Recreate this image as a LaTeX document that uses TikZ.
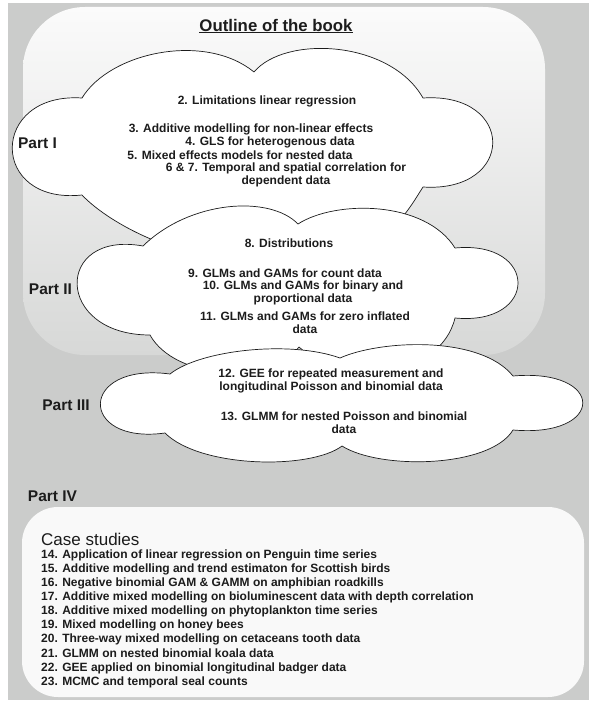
\documentclass[tikz,border=0pt]{standalone}
\usepackage{fontspec}
\setmainfont{Liberation Sans}
\usetikzlibrary{positioning}

\definecolor{bggray}{HTML}{CBCCCB}
\definecolor{paneltop}{HTML}{FBFBFB}
\definecolor{panelbot}{HTML}{D7D8D7}
\definecolor{casefill}{HTML}{F9F9F9}
\definecolor{ink}{HTML}{1C1C1C}

\tikzset{
  cloudline/.style={draw=ink, fill=white, line width=0.7pt},
  chapter/.style={font=\bfseries\fontsize{12}{13}\selectfont, text=ink, align=center, inner sep=0pt},
  partlabel/.style={font=\bfseries\fontsize{15.5}{18}\selectfont, text=ink, inner sep=0pt},
  caselist/.style={font=\bfseries\fontsize{12}{14.1}\selectfont, text=ink, align=left, inner sep=0pt},
}

\begin{document}
\begin{tikzpicture}[x=1pt, y=-1pt]
    \useasboundingbox (0,0) rectangle (589,703);
    % Panels
    \fill[white] (0,0) rectangle (589,703);
    \fill[bggray] (8,3) rectangle (589,700);
    \shade[top color=paneltop, bottom color=panelbot, rounded corners=62pt] (23,7) rectangle (545,355);
    \fill[casefill, rounded corners=36pt] (22,507) rectangle (584,697);

    % Clouds
    \draw[cloudline] (82,98) .. controls (110,52) and (205,32) .. (254,72)
        .. controls (285,35) and (390,40) .. (423,98)
        .. controls (516,92) and (516,193) .. (423,187)
        .. controls (405,215) and (380,265) .. (290,255)
        .. controls (200,275) and (110,225) .. (82,195)
        .. controls (-11,205) and (-11,92) .. (82,98) -- cycle;
    \draw[cloudline] (143,246) .. controls (190,200) and (270,195) .. (298,224)
        .. controls (335,200) and (425,200) .. (455,248)
        .. controls (539,240) and (539,326) .. (455,318)
        .. controls (440,380) and (340,385) .. (299,347)
        .. controls (270,385) and (175,380) .. (150,335)
        .. controls (54,335) and (54,230) .. (143,246) -- cycle;
    \draw[cloudline] (170,374) .. controls (200,350) and (290,340) .. (340,358)
        .. controls (380,340) and (480,335) .. (513,376)
        .. controls (606,368) and (606,438) .. (513,430)
        .. controls (490,468) and (380,470) .. (342,446)
        .. controls (310,470) and (200,468) .. (165,433)
        .. controls (78,445) and (78,362) .. (170,374) -- cycle;

    % Title
    \node (title) [font=\bfseries\fontsize{16.8}{19}\selectfont, text=ink, inner sep=0pt] at (276,26) {\underline{Outline of the book}};

    % Part I
    \node (part1) [partlabel] at (37.5,143) {Part I};
    \node (ch2) [chapter] at (267,101) {2. Limitations linear regression};
    \node (ch3) [chapter] at (251,129) {3. Additive modelling for non-linear effects};
    \node (ch4) [chapter] at (270,142) {4. GLS for heterogenous data};
    \node (ch5) [chapter] at (240,155) {5. Mixed effects models for nested data};
    \node (ch67) [chapter] at (286,174.5) {6 \& 7. Temporal and spatial correlation for\\dependent data};

    % Part II
    \node (part2) [partlabel] at (50.5,289) {Part II};
    \node (ch8) [chapter] at (289,243) {8. Distributions};
    \node (ch9) [chapter] at (285,273) {9. GLMs and GAMs for count data};
    \node (ch10) [chapter] at (303,292.5) {10. GLMs and GAMs for binary and\\proportional data};
    \node (ch11) [chapter] at (305,322.5) {11. GLMs and GAMs for zero inflated\\data};

    % Part III
    \node (part3) [partlabel] at (66,405) {Part III};
    \node (ch12) [chapter] at (331,381) {12. GEE for repeated measurement and\\longitudinal Poisson and binomial data};
    \node (ch13) [chapter] at (344,423) {13. GLMM for nested Poisson and binomial\\data};

    % Part IV
    \node (part4) [partlabel] at (52.5,496) {Part IV};
    \node (cases) [font=\fontsize{17}{20}\selectfont, text=ink, inner sep=0pt, anchor=west] at (41,539) {Case studies};
    \node (caselist) [caselist, below right=4pt and 0pt of cases.south west] {%
        14. Application of linear regression on Penguin time series\\
        15. Additive modelling and trend estimaton for Scottish birds\\
        16. Negative binomial GAM \& GAMM on amphibian roadkills\\
        17. Additive mixed modelling on bioluminescent data with depth correlation\\
        18. Additive mixed modelling on phytoplankton time series\\
        19. Mixed modelling on honey bees\\
        20. Three-way mixed modelling on cetaceans tooth data\\
        21. GLMM on nested binomial koala data\\
        22. GEE applied on binomial longitudinal badger data\\
        23. MCMC and temporal seal counts};
\end{tikzpicture}
\end{document}
